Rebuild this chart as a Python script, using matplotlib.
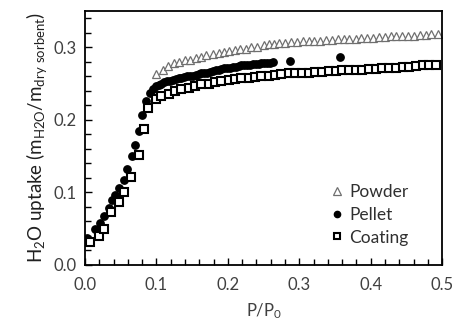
import matplotlib
matplotlib.use('Agg')
import matplotlib.pyplot as plt
from matplotlib.ticker import MultipleLocator

# ---------------------------------------------------
# Data read off the isotherm
# ---------------------------------------------------
powder_p = [0.100, 0.109, 0.116, 0.124, 0.132, 0.140, 0.147, 0.155, 0.163, 0.170,
            0.179, 0.187, 0.194, 0.202, 0.210, 0.217, 0.225, 0.233, 0.241, 0.250,
            0.257, 0.264, 0.272, 0.280, 0.288, 0.297, 0.305, 0.313, 0.321, 0.329,
            0.338, 0.346, 0.354, 0.362, 0.370, 0.379, 0.387, 0.395, 0.403, 0.411,
            0.420, 0.428, 0.436, 0.444, 0.452, 0.461, 0.469, 0.477, 0.485, 0.494]
powder_u = [0.263, 0.269, 0.274, 0.278, 0.280, 0.282, 0.283, 0.285, 0.287, 0.289,
            0.290, 0.292, 0.293, 0.295, 0.296, 0.297, 0.298, 0.300, 0.301, 0.303,
            0.304, 0.305, 0.306, 0.306, 0.307, 0.307, 0.308, 0.308, 0.309, 0.309,
            0.310, 0.310, 0.311, 0.311, 0.312, 0.312, 0.313, 0.313, 0.313, 0.314,
            0.314, 0.315, 0.315, 0.316, 0.316, 0.316, 0.317, 0.317, 0.318, 0.318]

pellet_p = [0.003, 0.014, 0.021, 0.027, 0.033, 0.037, 0.042, 0.048, 0.054, 0.059,
            0.065, 0.070, 0.075, 0.080, 0.085, 0.091,
            0.095, 0.099, 0.103, 0.107, 0.111, 0.115, 0.119, 0.123, 0.127, 0.131,
            0.135, 0.139, 0.143, 0.147, 0.151, 0.155, 0.159, 0.163, 0.167, 0.171,
            0.175, 0.179, 0.183, 0.187, 0.191, 0.195, 0.199, 0.203, 0.207, 0.211,
            0.215, 0.219, 0.223, 0.227, 0.231, 0.235, 0.239, 0.243, 0.247, 0.251,
            0.255, 0.259, 0.263, 0.287, 0.357]
pellet_u = [0.037, 0.049, 0.058, 0.068, 0.079, 0.089, 0.097, 0.106, 0.117, 0.132,
            0.150, 0.165, 0.185, 0.206, 0.226, 0.237,
            0.243, 0.246, 0.248, 0.250, 0.252, 0.253, 0.254, 0.255, 0.256, 0.257,
            0.258, 0.259, 0.260, 0.261, 0.261, 0.262, 0.263, 0.264, 0.264, 0.265,
            0.266, 0.267, 0.268, 0.269, 0.270, 0.271, 0.272, 0.272, 0.273, 0.273,
            0.274, 0.275, 0.275, 0.276, 0.276, 0.277, 0.277, 0.277, 0.278, 0.278,
            0.278, 0.278, 0.279, 0.281, 0.286]

coating_p = [0.007, 0.019, 0.027, 0.036, 0.047, 0.055, 0.064, 0.075, 0.082, 0.088,
             0.099, 0.107, 0.117, 0.126, 0.135, 0.145, 0.154, 0.163, 0.173, 0.182,
             0.191, 0.201, 0.210, 0.219, 0.229, 0.238, 0.247, 0.257, 0.266, 0.275,
             0.285, 0.294, 0.304, 0.313, 0.322, 0.332, 0.341, 0.351, 0.360, 0.369,
             0.379, 0.388, 0.398, 0.407, 0.416, 0.426, 0.435, 0.445, 0.454, 0.463,
             0.473, 0.482, 0.492]
coating_u = [0.032, 0.040, 0.050, 0.073, 0.087, 0.100, 0.121, 0.152, 0.187, 0.216,
             0.229, 0.233, 0.236, 0.240, 0.242, 0.244, 0.247, 0.249, 0.250, 0.252,
             0.253, 0.255, 0.256, 0.257, 0.258, 0.259, 0.260, 0.261, 0.262, 0.263,
             0.264, 0.264, 0.265, 0.265, 0.266, 0.266, 0.267, 0.267, 0.268, 0.268,
             0.269, 0.269, 0.270, 0.270, 0.271, 0.272, 0.272, 0.273, 0.273, 0.274,
             0.275, 0.275, 0.276]

# ---------------------------------------------------
# Plotting
# ---------------------------------------------------
plt.rcParams['font.family'] = ['Lato', 'DejaVu Sans']
plt.rcParams['mathtext.default'] = 'regular'

fig = plt.figure(figsize=(4.6, 3.32), dpi=100)
ax = fig.add_axes([0.185, 0.202, 0.776, 0.765])

ax.plot(powder_p, powder_u, linestyle='none', marker='^', markersize=6.3,
        markerfacecolor='white', markeredgecolor='#6f6f6f', markeredgewidth=0.9,
        label='Powder')
ax.plot(pellet_p, pellet_u, linestyle='none', marker='o', markersize=5.3,
        color='black', label='Pellet')
ax.plot(coating_p, coating_u, linestyle='none', marker='s', markersize=5.5,
        markerfacecolor='white', markeredgecolor='black', markeredgewidth=1.5,
        label='Coating')

ax.set_xlim(0, 0.5)
ax.set_ylim(0, 0.35)
ax.xaxis.set_major_locator(MultipleLocator(0.1))
ax.xaxis.set_minor_locator(MultipleLocator(0.02))
ax.yaxis.set_major_locator(MultipleLocator(0.1))
ax.yaxis.set_minor_locator(MultipleLocator(0.02))
ax.set_yticks([0.0, 0.1, 0.2, 0.3])
ax.xaxis.set_major_formatter(matplotlib.ticker.FormatStrFormatter('%.1f'))
ax.yaxis.set_major_formatter(matplotlib.ticker.FormatStrFormatter('%.1f'))
ax.tick_params(which='both', direction='in', colors='black', labelcolor='#404040',
               labelsize=12, top=False, right=False)
ax.tick_params(which='major', length=5, width=1)
ax.tick_params(which='minor', length=4, width=1)
ax.tick_params(axis='x', pad=9)
ax.tick_params(axis='y', pad=6)
for s in ax.spines.values():
    s.set_linewidth(1.3)

ax.set_xlabel('P/P$_0$', fontsize=12, color='#404040', labelpad=6)
ax.set_ylabel(r'H$_2$O uptake (m$_{H2O}$/m$_{dry\ sorbent}$)', fontsize=13.5,
              color='#202020', labelpad=3)

ax.legend(loc='lower right', bbox_to_anchor=(0.95, 0.015), frameon=False,
          fontsize=12.5, handletextpad=0.1, labelspacing=0.38, markerscale=0.85,
          handlelength=1.2, labelcolor='#303030')

plt.savefig('out.png', dpi=100)
